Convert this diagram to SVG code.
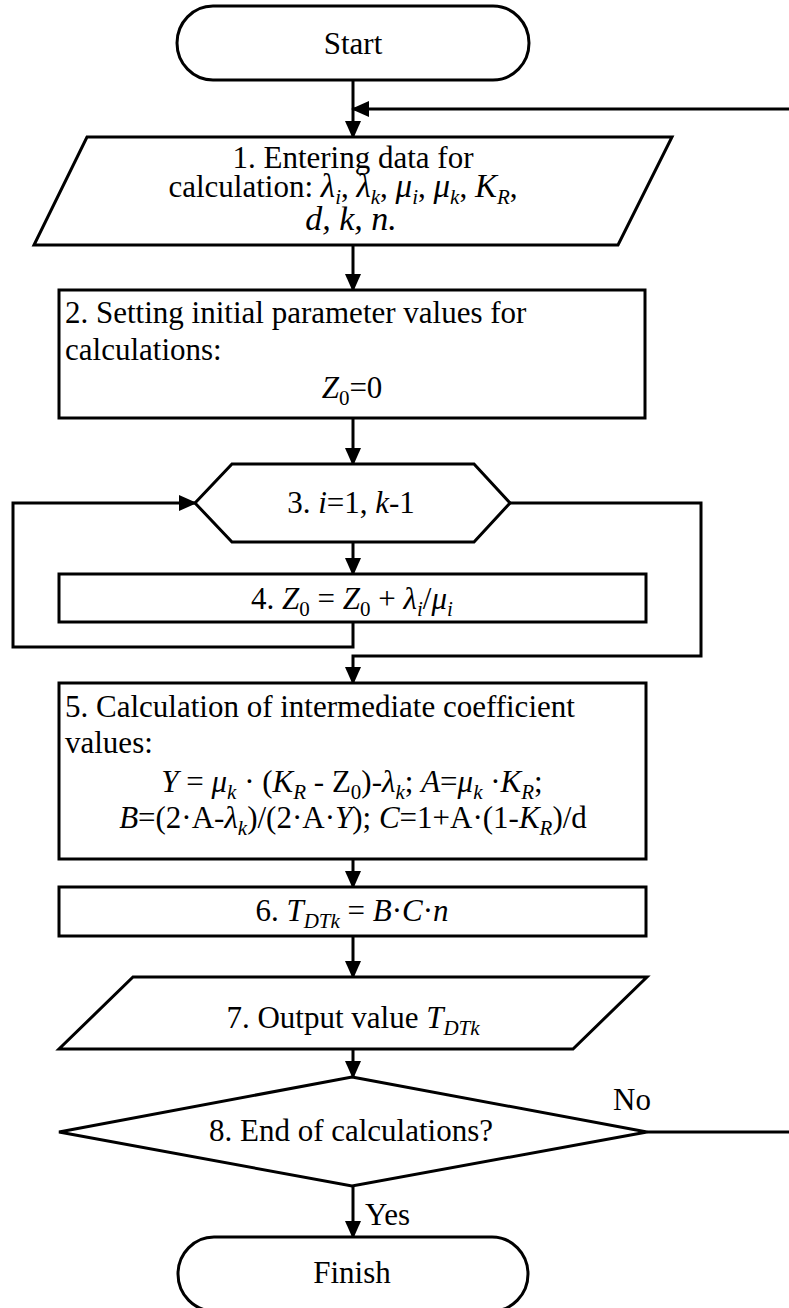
<svg xmlns="http://www.w3.org/2000/svg" width="789" height="1308" viewBox="0 0 789 1308">
<style>
.n{fill:#fff;stroke:#000;stroke-width:3;stroke-linejoin:miter}
.c{fill:none;stroke:#000;stroke-width:3}
text{font-family:"Liberation Serif","Times New Roman",serif;font-size:31px;fill:#000}
.m{text-anchor:middle}
.i{font-style:italic}
.mi{font-style:italic;font-size:33px}
.s{font-size:21px;font-style:italic}
.u{font-size:21px;font-style:normal}
</style>
<defs>
<marker id="ah" markerUnits="userSpaceOnUse" markerWidth="18" markerHeight="16" refX="16" refY="8" orient="auto">
<path d="M0,0 L18,8 L0,16 z" fill="#000"/>
</marker>
</defs>
<rect width="789" height="1308" fill="#fff"/>
<g id="connectors">
<path class="c" d="M353,80 V137" marker-end="url(#ah)"/>
<path class="c" d="M647,1132 H800 V109 H353" marker-end="url(#ah)"/>
<path class="c" d="M353,245 V290" marker-end="url(#ah)"/>
<path class="c" d="M353,418 V464" marker-end="url(#ah)"/>
<path class="c" d="M353,542 V574" marker-end="url(#ah)"/>
<path class="c" d="M353,622 V647 H13 V503 H195" marker-end="url(#ah)"/>
<path class="c" d="M510,503 H701 V656 H353 V683" marker-end="url(#ah)"/>
<path class="c" d="M353,859 V887" marker-end="url(#ah)"/>
<path class="c" d="M353,936 V977" marker-end="url(#ah)"/>
<path class="c" d="M353,1049 V1077" marker-end="url(#ah)"/>
<path class="c" d="M353,1186 V1237" marker-end="url(#ah)"/>
<text x="613" y="1110">No</text>
<text x="365" y="1225">Yes</text>
</g>
<g id="start">
<rect class="n" x="177" y="6" width="352" height="74" rx="36" ry="37"/>
<text class="m" x="353" y="54">Start</text>
</g>
<g id="n1">
<path class="n" d="M87,137 H672 L618,245 H34 Z"/>
<text class="m" x="353" y="168">1. Entering data for</text>
<text class="m" x="343" y="197">calculation: <tspan class="mi">λ</tspan><tspan class="s" dy="7">i</tspan><tspan dy="-7">, </tspan><tspan class="mi">λ</tspan><tspan class="s" dy="7">k</tspan><tspan dy="-7">, </tspan><tspan class="mi">μ</tspan><tspan class="s" dy="7">i</tspan><tspan dy="-7">, </tspan><tspan class="mi">μ</tspan><tspan class="s" dy="7">k</tspan><tspan dy="-7">, </tspan><tspan class="mi">K</tspan><tspan class="s" dy="7">R</tspan><tspan dy="-7">,</tspan></text>
<text class="m" x="351" y="230" style="font-style:italic;font-size:34px">d, k, n.</text>
</g>
<g id="n2">
<rect class="n" x="59" y="290" width="586" height="128"/>
<text x="65" y="323">2. Setting initial parameter values for</text>
<text x="65" y="360">calculations:</text>
<text class="m" x="352" y="398"><tspan class="i">Z</tspan><tspan class="u" dy="7">0</tspan><tspan dy="-7">=0</tspan></text>
</g>
<g id="n3">
<path class="n" d="M195,503 L232,464 H474 L510,503 L474,542 H232 Z"/>
<text class="m" x="351" y="513">3. <tspan class="i">i</tspan>=1, <tspan class="i">k</tspan>-1</text>
</g>
<g id="n4">
<rect class="n" x="59" y="574" width="587" height="48"/>
<text class="m" x="352" y="609">4. <tspan class="i">Z</tspan><tspan class="u" dy="7">0</tspan><tspan dy="-7"> = </tspan><tspan class="i">Z</tspan><tspan class="u" dy="7">0</tspan><tspan dy="-7"> + </tspan><tspan class="i">λ</tspan><tspan class="s" dy="7">i</tspan><tspan dy="-7">/</tspan><tspan class="i">μ</tspan><tspan class="s" dy="7">i</tspan></text>
</g>
<g id="n5">
<rect class="n" x="59" y="683" width="587" height="176"/>
<text x="65" y="717">5. Calculation of intermediate coefficient</text>
<text x="65" y="753">values:</text>
<text class="m" x="352" y="792"><tspan class="i">Y</tspan> = <tspan class="i">μ</tspan><tspan class="s" dy="7">k</tspan><tspan dy="-7"> · (</tspan><tspan class="i">K</tspan><tspan class="s" dy="7">R</tspan><tspan dy="-7"> - Z</tspan><tspan class="u" dy="7">0</tspan><tspan dy="-7">)-</tspan><tspan class="i">λ</tspan><tspan class="s" dy="7">k</tspan><tspan dy="-7">; </tspan><tspan class="i">A</tspan>=<tspan class="i">μ</tspan><tspan class="s" dy="7">k</tspan><tspan dy="-7"> ·</tspan><tspan class="i">K</tspan><tspan class="s" dy="7">R</tspan><tspan dy="-7">;</tspan></text>
<text class="m" x="353" y="828"><tspan class="i">B</tspan>=(2·A-<tspan class="i">λ</tspan><tspan class="s" dy="7">k</tspan><tspan dy="-7">)/(2·A·</tspan><tspan class="i">Y</tspan>); <tspan class="i">C</tspan>=1+A·(1-<tspan class="i">K</tspan><tspan class="s" dy="7">R</tspan><tspan dy="-7">)/d</tspan></text>
</g>
<g id="n6">
<rect class="n" x="59" y="887" width="587" height="49"/>
<text class="m" x="352" y="921">6. <tspan class="i">T</tspan><tspan class="s" dy="7">DTk</tspan><tspan dy="-7"> = </tspan><tspan class="i">B</tspan>·<tspan class="i">C</tspan>·<tspan class="i">n</tspan></text>
</g>
<g id="n7">
<path class="n" d="M133,977 H647 L573,1049 H59 Z"/>
<text class="m" x="353" y="1028">7. Output value <tspan class="i">T</tspan><tspan class="s" dy="7">DTk</tspan></text>
</g>
<g id="n8">
<path class="n" d="M352,1077 L647,1132 L352,1186 L59,1132 Z"/>
<text class="m" x="351" y="1141">8. End of calculations?</text>
</g>
<g id="finish">
<rect class="n" x="178" y="1237" width="350" height="74" rx="36" ry="37"/>
<text class="m" x="352" y="1283">Finish</text>
</g>
</svg>
